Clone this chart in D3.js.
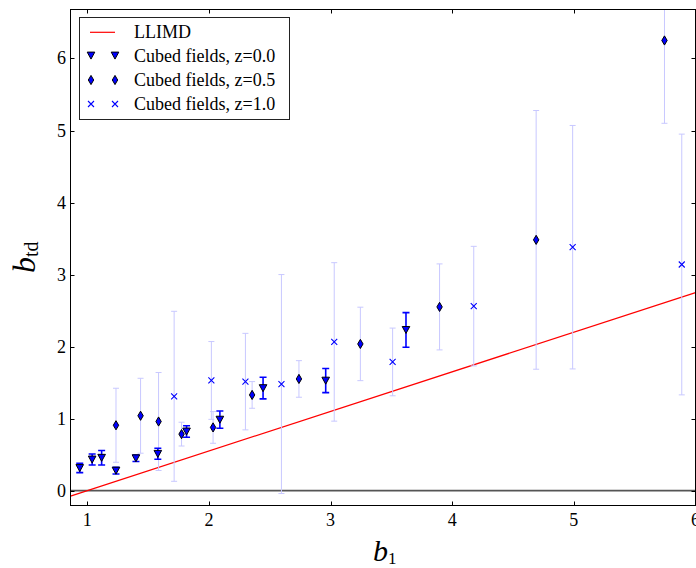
<!DOCTYPE html>
<html><head><meta charset="utf-8">
<script src="https://cdn.jsdelivr.net/npm/d3@7"></script>
<style>
html,body{margin:0;padding:0;background:#fff;overflow:hidden;}
svg{display:block;}
text{font-family:"Liberation Serif","Times New Roman",serif;fill:#000;}
</style></head>
<body>
<svg id="chart" width="696" height="568"></svg>
<script>
// ---- data ----
const xTicks = [1, 2, 3, 4, 5, 6];
const yTicks = [0, 1, 2, 3, 4, 5, 6];

// LLIMD line endpoints (b1, b_td)
const llimdB = [0.862, 6.0];
const llimdV = [-0.076, 2.75];

// Cubed fields, z=0.0 (triangles, solid error bars)
const z0B = [0.938, 1.04, 1.118, 1.236, 1.40, 1.58, 1.816, 2.09, 2.445, 2.96, 3.62];
const z0V = [0.315, 0.433, 0.457, 0.278, 0.45, 0.512, 0.822, 0.986, 1.424, 1.528, 2.232];
const z0E = [0.065, 0.077, 0.10, 0.047, 0.046, 0.076, 0.08, 0.12, 0.15, 0.167, 0.24];

// Cubed fields, z=0.5 (thin diamonds, faint error bars)
const z05B = [1.236, 1.438, 1.586, 1.775, 2.034, 2.355, 2.74, 3.245, 3.896, 4.69, 5.745];
const z05V = [0.908, 1.04, 0.96, 0.785, 0.878, 1.329, 1.551, 2.037, 2.551, 3.482, 6.25];
const z05E = [0.514, 0.52, 0.68, 0.165, 0.22, 0.185, 0.254, 0.51, 0.597, 1.796, 1.15];

// Cubed fields, z=1.0 (x markers, faint error bars)
const z1B = [1.714, 2.02, 2.30, 2.596, 3.03, 3.51, 4.177, 4.99, 5.887];
const z1V = [1.31, 1.53, 1.514, 1.48, 2.065, 1.787, 2.562, 3.38, 3.14];
const z1E = [1.18, 0.54, 0.67, 1.52, 1.10, 0.47, 0.83, 1.69, 1.81];

const legendLabels = ["LLIMD", "Cubed fields, z=0.0", "Cubed fields, z=0.5", "Cubed fields, z=1.0"];

// ---- layout ----
const L = 70.5, R = 695.5, T = 9.5, B = 505.5;
const svg = d3.select("#chart");
const x = d3.scaleLinear().domain([0.862, 6.0]).range([L, R]);
const y = d3.scaleLinear().domain([-0.206, 6.68]).range([B, T]);

svg.append("defs").append("clipPath").attr("id", "clip")
  .append("rect").attr("x", L).attr("y", T).attr("width", R - L).attr("height", B - T);

const plot = svg.append("g").attr("clip-path", "url(#clip)");

// horizontal zero line
plot.append("line").attr("x1", L).attr("x2", R).attr("y1", y(0)).attr("y2", y(0))
  .attr("stroke", "#555").attr("stroke-width", 1.6);

// LLIMD line
plot.append("path")
  .datum(llimdB.map((b, i) => [b, llimdV[i]]))
  .attr("d", d3.line().x(d => x(d[0])).y(d => y(d[1])))
  .attr("stroke", "#ff0000").attr("stroke-width", 1.2).attr("fill", "none");

function errorbars(g, B_, V_, E_, color, width, cap) {
  const data = B_.map((b, i) => ({b, v: V_[i], e: E_[i]}));
  const gg = g.append("g").attr("stroke", color).attr("stroke-width", width).attr("fill", "none");
  gg.selectAll(".v").data(data).join("line")
    .attr("x1", d => x(d.b)).attr("x2", d => x(d.b))
    .attr("y1", d => y(d.v - d.e)).attr("y2", d => y(d.v + d.e));
  gg.selectAll(".c1").data(data).join("line")
    .attr("x1", d => x(d.b) - cap).attr("x2", d => x(d.b) + cap)
    .attr("y1", d => y(d.v + d.e)).attr("y2", d => y(d.v + d.e));
  gg.selectAll(".c2").data(data).join("line")
    .attr("x1", d => x(d.b) - cap).attr("x2", d => x(d.b) + cap)
    .attr("y1", d => y(d.v - d.e)).attr("y2", d => y(d.v - d.e));
}

const faint = "#c8c8ff";
errorbars(plot, z05B, z05V, z05E, faint, 1, 3);
errorbars(plot, z1B, z1V, z1E, faint, 1, 3);
errorbars(plot, z0B, z0V, z0E, "#0000ff", 1.6, 3.5);

const triPath = "M-3.8,-3.4L3.8,-3.4L0,3.6Z";
const diaPath = "M0,-4.6L2.7,0L0,4.6L-2.7,0Z";
const xPath = "M-3,-3L3,3M-3,3L3,-3";

function markers(g, B_, V_, path, fill, stroke, sw) {
  g.append("g").selectAll("path").data(B_.map((b, i) => [b, V_[i]])).join("path")
    .attr("transform", d => `translate(${x(d[0])},${y(d[1])})`)
    .attr("d", path).attr("fill", fill).attr("stroke", stroke).attr("stroke-width", sw);
}
markers(plot, z05B, z05V, diaPath, "#0000ff", "#000", 1);
markers(plot, z1B, z1V, xPath, "none", "#0000ff", 1.1);
markers(plot, z0B, z0V, triPath, "#0000ff", "#000", 1);

// ---- axes frame and ticks (inward, all sides) ----
const axes = svg.append("g");
axes.append("rect").attr("x", L).attr("y", T).attr("width", R - L).attr("height", B - T)
  .attr("fill", "none").attr("stroke", "#000").attr("stroke-width", 1);
const tl = 4;
xTicks.forEach(t => {
  const px = Math.round(x(t)) + 0.5;
  axes.append("line").attr("x1", px).attr("x2", px).attr("y1", B).attr("y2", B - tl).attr("stroke", "#000");
  axes.append("line").attr("x1", px).attr("x2", px).attr("y1", T).attr("y2", T + tl).attr("stroke", "#000");
  axes.append("text").attr("x", x(t)).attr("y", 525.5).attr("text-anchor", "middle")
    .attr("font-size", 18).text(t);
});
yTicks.forEach(t => {
  const py = Math.round(y(t)) + 0.5;
  axes.append("line").attr("x1", L).attr("x2", L + tl).attr("y1", py).attr("y2", py).attr("stroke", "#000");
  axes.append("line").attr("x1", R).attr("x2", R - tl).attr("y1", py).attr("y2", py).attr("stroke", "#000");
  axes.append("text").attr("x", 66).attr("y", y(t) + 6).attr("text-anchor", "end")
    .attr("font-size", 18).text(t);
});

// axis labels
const xl = svg.append("text").attr("x", 373).attr("y", 561);
xl.append("tspan").attr("font-style", "italic").attr("font-size", 30).text("b");
xl.append("tspan").attr("font-size", 17).attr("dy", 2.5).text("1");

const yl = svg.append("text").attr("transform", "translate(35,273) rotate(-90)");
yl.append("tspan").attr("font-style", "italic").attr("font-size", 32).text("b");
yl.append("tspan").attr("font-size", 20).attr("dy", 3).text("td");

// ---- legend ----
const lg = svg.append("g");
lg.append("rect").attr("x", 79.5).attr("y", 17.5).attr("width", 210).attr("height", 102)
  .attr("fill", "#fff").attr("stroke", "#222").attr("stroke-width", 1);
const rowY = [32.3, 55.5, 80, 104];
const baseY = [37.5, 61.5, 85.8, 110];
lg.append("line").attr("x1", 90).attr("x2", 115).attr("y1", rowY[0]).attr("y2", rowY[0])
  .attr("stroke", "#ff0000").attr("stroke-width", 1.2);
[91, 115].forEach(mx => {
  lg.append("path").attr("transform", `translate(${mx},${rowY[1]})`).attr("d", triPath)
    .attr("fill", "#0000ff").attr("stroke", "#000");
  lg.append("path").attr("transform", `translate(${mx},${rowY[2]})`).attr("d", diaPath)
    .attr("fill", "#0000ff").attr("stroke", "#000");
  lg.append("path").attr("transform", `translate(${mx},${rowY[3]})`).attr("d", xPath)
    .attr("fill", "none").attr("stroke", "#0000ff").attr("stroke-width", 1.1);
});
legendLabels.forEach((s, i) => {
  lg.append("text").attr("x", 134).attr("y", baseY[i]).attr("font-size", 18).text(s);
});
</script>
</body></html>
